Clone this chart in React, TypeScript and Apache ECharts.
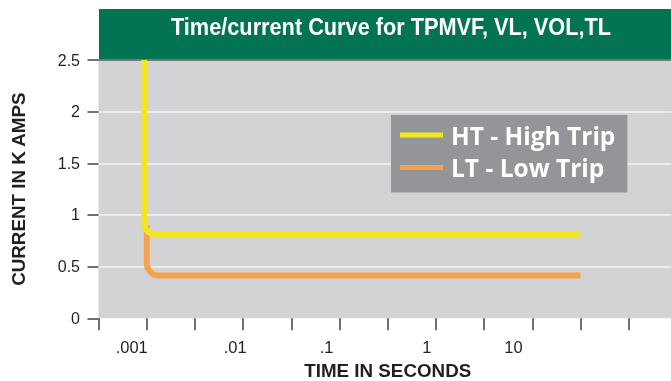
import React, { useEffect, useRef } from 'react';
import * as echarts from 'echarts';

// ---- data ----
const titleText = 'Time/current Curve for TPMVF, VL, VOL,TL';
const xAxisName = 'TIME IN SECONDS';
const yAxisName = 'CURRENT IN K AMPS';
const seriesNames = ['HT - High Trip', 'LT - Low Trip'];

// time in seconds, current in kA
const htTime = [0.00094, 0.00094, 0.00096, 0.00102, 0.00112, 0.00125, 31.5];
const htCurrent = [2.5, 0.93, 0.88, 0.84, 0.82, 0.81, 0.81];
const ltTime = [0.001, 0.001, 0.00102, 0.00109, 0.00119, 0.00133, 31.5];
const ltCurrent = [0.9, 0.53, 0.49, 0.45, 0.42, 0.415, 0.415];

// x tick labels at decades (log10 of seconds)
const xTickDecades = [-3, -2, -1, 0, 1];
const xTickLabels = ['.001', '.01', '.1', '1', '10'];

// ---- styling ----
const xLabelShift = [15, 8, 13, 9, 19];
const COLOR_HT = '#f2e71d';
const COLOR_LT = '#f8a250';
const TEXT_DARK = '#231f20';
const FONT = '"Liberation Sans", Arial, sans-serif';

export default function App() {
  const ref = useRef<HTMLDivElement>(null);
  useEffect(() => {
    const chart = echarts.init(ref.current as HTMLDivElement, null, { renderer: 'svg' });
    const rich: Record<string, any> = {};
    xLabelShift.forEach((s, i) => {
      rich['s' + i] = {
        padding: [0, 2 * s, 0, 0],
        fontSize: 16.5,
        fontFamily: FONT,
        color: TEXT_DARK,
        lineHeight: 17,
      };
    });
    const toData = (ts: number[], cs: number[]) => ts.map((t, i) => [Math.log10(t), cs[i]]);

    chart.setOption({
      animation: false,
      graphic: [
        {
          type: 'rect',
          z: 10,
          shape: { x: 99, y: 9, width: 572, height: 50.2 },
          style: { fill: '#027353' },
        },
        {
          type: 'text',
          z: 11,
          x: 391,
          y: 27,
          scaleX: 0.945,
          style: {
            text: titleText,
            fill: '#ffffff',
            font: 'bold 23px ' + FONT,
            fontSize: 23,
            fontWeight: 'bold',
            fontFamily: FONT,
            align: 'center',
            textAlign: 'center',
            verticalAlign: 'middle',
            textVerticalAlign: 'middle',
          },
        },
      ],
      legend: {
        orient: 'vertical',
        left: 391,
        top: 115,
        data: seriesNames,
        icon: 'rect',
        itemWidth: 43,
        itemHeight: 5,
        itemGap: 7.5,
        padding: [7.5, 12, 12.5, 9],
        backgroundColor: '#939598',
        selectedMode: false,
        textStyle: {
          color: '#ffffff',
          fontFamily: '"Open Sans", Lato, sans-serif',
          fontWeight: 'bold',
          fontSize: 24.5,
          padding: [0, 0, 0, 3],
        },
      },
      grid: {
        left: 98.5,
        top: 60,
        right: -6,
        bottom: 62.7,
        outerBoundsMode: 'none',
        containLabel: false,
        show: true,
        backgroundColor: '#d1d3d4',
        borderWidth: 0,
      },
      xAxis: {
        type: 'value',
        min: -3.5,
        max: 2.5,
        interval: 0.5,
        name: xAxisName,
        nameLocation: 'middle',
        nameGap: 39,
        nameTextStyle: { fontFamily: FONT, fontWeight: 'bold', fontSize: 18.8, color: TEXT_DARK },
        axisLine: { show: false, onZero: false },
        axisTick: { show: true, length: 12, lineStyle: { color: '#414042', width: 1.5 } },
        splitLine: { show: false },
        axisLabel: {
          margin: 20.5,
          fontFamily: FONT,
          fontSize: 16.5,
          color: TEXT_DARK,
          showMinLabel: true,
          showMaxLabel: true,
          rich,
          formatter: (v: number) => {
            const i = xTickDecades.findIndex((d) => Math.abs(d - v) < 1e-6);
            return i < 0 ? '' : `{s${i}|${xTickLabels[i]}}`;
          },
        },
      },
      yAxis: {
        type: 'value',
        min: 0,
        max: 2.5,
        interval: 0.5,
        name: yAxisName,
        nameLocation: 'middle',
        nameGap: 71,
        nameTextStyle: { fontFamily: FONT, fontWeight: 'bold', fontSize: 18.8, color: TEXT_DARK },
        axisLine: { show: false, onZero: false },
        axisTick: { show: true, length: 11, lineStyle: { color: '#414042', width: 1.5 } },
        axisLabel: { margin: 18.5, fontFamily: FONT, fontSize: 16, color: TEXT_DARK },
        splitLine: {
          show: true,
          lineStyle: {
            width: 1.5,
            color: ['rgba(0,0,0,0)', '#f4f4f4', '#f4f4f4', '#f4f4f4', '#f4f4f4', '#58595b'],
          },
        },
      },
      series: [
        {
          name: seriesNames[1],
          type: 'line',
          data: toData(ltTime, ltCurrent),
          showSymbol: false,
          symbol: 'none',
          itemStyle: { color: COLOR_LT },
          lineStyle: { color: COLOR_LT, width: 6, cap: 'butt', join: 'round' },
          z: 2,
        },
        {
          name: seriesNames[0],
          type: 'line',
          data: toData(htTime, htCurrent),
          showSymbol: false,
          symbol: 'none',
          itemStyle: { color: COLOR_HT },
          lineStyle: { color: COLOR_HT, width: 6, cap: 'butt', join: 'round' },
          z: 3,
        },
      ],
    });
    return () => chart.dispose();
  }, []);
  return <div ref={ref} style={{ position: 'fixed', left: 0, top: 0, width: 671, height: 381 }} />;
}
